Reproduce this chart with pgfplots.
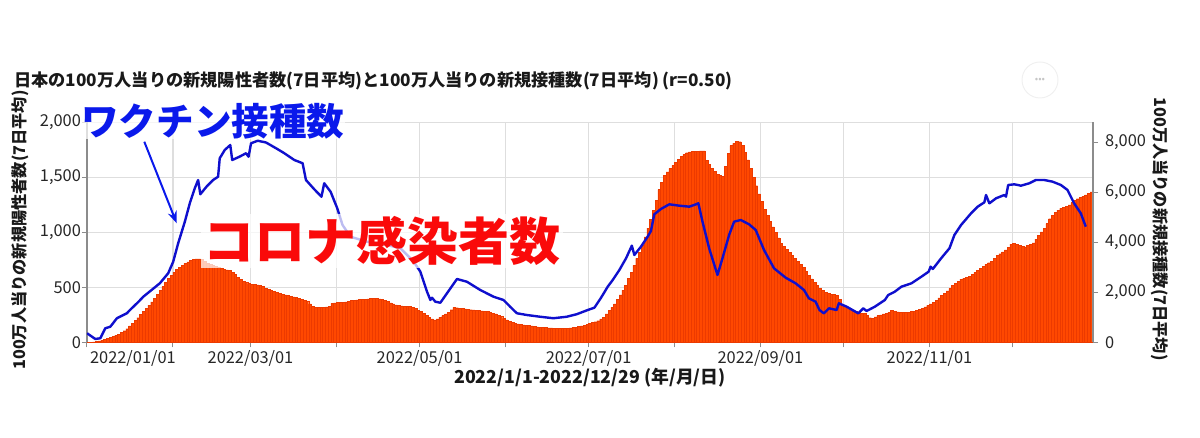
\documentclass[border=0pt]{standalone}
\usepackage{fontspec}
\setmainfont{Noto Sans CJK JP}
\usepackage{pgfplots}
\pgfplotsset{compat=1.18}
\usetikzlibrary{arrows.meta}
\definecolor{barorange}{RGB}{255,72,0}
\definecolor{baredge}{RGB}{236,58,0}
\definecolor{lineblue}{RGB}{15,15,205}
\definecolor{annblue}{RGB}{10,25,235}
\definecolor{annred}{RGB}{250,10,10}
\definecolor{gridgray}{RGB}{222,222,222}
\definecolor{axgray}{RGB}{140,140,140}
\begin{document}
\begin{tikzpicture}
\path[use as bounding box] (-43.5pt,-47.75pt) rectangle (556.5pt,171.25pt);
\begin{axis}[
  at={(0,0)}, anchor=south west, scale only axis,
  width=503pt, height=110pt,
  xmin=-0.5, xmax=362.5, ymin=0, ymax=2000,
  axis x line*=bottom, axis y line*=left,
  axis line style={-, draw=axgray, line width=0.6pt},
  tick align=outside, major tick length=2.5pt,
  tick style={draw=axgray, line width=0.5pt},
  xtick={30.5,58.5,89.5,119.5,150.5,180.5,211.5,242.5,272.5,303.5,333.5},
  xticklabels={,2022/03/01,,2022/05/01,,2022/07/01,,2022/09/01,,2022/11/01,},
  extra x ticks={-0.5}, extra x tick labels={2022/01/01},
  extra x tick style={grid=none, xticklabel style={anchor=north west, xshift=-2pt}},
  ytick={0,500,1000,1500,2000},
  scaled y ticks=false,
  xmajorgrids, ymajorgrids,
  major grid style={draw=gridgray, line width=0.75pt},
  ticklabel style={font=\fontsize{8.2}{10}\selectfont, text=black!85},
  xticklabel style={yshift=2pt},
  yticklabel style={xshift=3pt},
  /pgf/number format/assume math mode=true,
  /pgf/number format/1000 sep={,},
]
\addplot[ybar, bar width=1, fill=barorange, draw=baredge, line width=0.2pt] coordinates {
(0,2)(1,4)(2,5)(3,9)(4,14)(5,21)(6,28)(7,36)(8,44)(9,53)
(10,65)(11,77)(12,90)(13,107)(14,125)(15,150)(16,174)(17,200)(18,225)(19,255)
(20,285)(21,312)(22,340)(23,370)(24,400)(25,436)(26,472)(27,508)(28,545)(29,583)
(30,612)(31,640)(32,662)(33,685)(34,703)(35,720)(36,733)(37,745)(38,759)(39,760)
(40,760)(41,759)(42,740)(43,720)(44,710)(45,700)(46,692)(47,685)(48,675)(49,665)
(50,660)(51,655)(52,640)(53,618)(54,595)(55,575)(56,555)(57,545)(58,535)(59,530)
(60,527)(61,524)(62,520)(63,508)(64,495)(65,485)(66,475)(67,465)(68,456)(69,448)
(70,440)(71,434)(72,428)(73,421)(74,415)(75,408)(76,402)(77,394)(78,385)(79,371)
(80,350)(81,330)(82,322)(83,318)(84,318)(85,318)(86,324)(87,330)(88,356)(89,360)
(90,362)(91,364)(92,365)(93,370)(94,376)(95,381)(96,386)(97,388)(98,391)(99,393)
(100,395)(101,397)(102,399)(103,400)(104,401)(105,396)(106,390)(107,380)(108,371)(109,360)
(110,350)(111,342)(112,335)(113,332)(114,330)(115,328)(116,326)(117,318)(118,310)(119,295)
(120,280)(121,262)(122,245)(123,230)(124,215)(125,205)(126,215)(127,230)(128,245)(129,260)
(130,275)(131,298)(132,320)(133,316)(134,312)(135,308)(136,305)(137,302)(138,298)(139,296)
(140,293)(141,290)(142,288)(143,284)(144,280)(145,275)(146,268)(147,260)(148,248)(149,235)
(150,220)(151,205)(152,195)(153,185)(154,177)(155,170)(156,165)(157,160)(158,157)(159,153)
(160,150)(161,146)(162,142)(163,138)(164,136)(165,135)(166,133)(167,132)(168,131)(169,130)
(170,130)(171,129)(172,130)(173,131)(174,133)(175,136)(176,140)(177,145)(178,150)(179,156)
(180,162)(181,171)(182,180)(183,189)(184,198)(185,214)(186,230)(187,260)(188,290)(189,320)
(190,350)(191,391)(192,432)(193,476)(194,520)(195,580)(196,640)(197,702)(198,765)(199,822)
(200,880)(201,960)(202,1040)(203,1120)(204,1200)(205,1290)(206,1390)(207,1455)(208,1520)(209,1552)
(210,1583)(211,1610)(212,1635)(213,1662)(214,1690)(215,1708)(216,1725)(217,1732)(218,1738)(219,1739)
(220,1740)(221,1741)(222,1741)(223,1659)(224,1620)(225,1583)(226,1556)(227,1530)(228,1518)(229,1508)
(230,1600)(231,1720)(232,1790)(233,1811)(234,1830)(235,1825)(236,1790)(237,1730)(238,1660)(239,1580)
(240,1500)(241,1425)(242,1350)(243,1280)(244,1210)(245,1155)(246,1100)(247,1050)(248,1000)(249,950)
(250,900)(251,872)(252,845)(253,818)(254,790)(255,762)(256,735)(257,708)(258,680)(259,645)
(260,610)(261,578)(262,545)(263,520)(264,495)(265,475)(266,455)(267,447)(268,440)(269,435)
(270,430)(271,390)(272,345)(273,332)(274,320)(275,307)(276,295)(277,285)(278,275)(279,268)
(280,262)(281,244)(282,225)(283,220)(284,232)(285,245)(286,252)(287,260)(288,268)(289,275)
(290,295)(291,286)(292,278)(293,277)(294,276)(295,275)(296,277)(297,280)(298,282)(299,292)
(300,301)(301,311)(302,324)(303,337)(304,350)(305,368)(306,386)(307,405)(308,427)(309,448)
(310,470)(311,493)(312,517)(313,540)(314,558)(315,575)(316,583)(317,592)(318,600)(319,618)
(320,637)(321,655)(322,673)(323,692)(324,710)(325,725)(326,740)(327,765)(328,790)(329,807)
(330,824)(331,841)(332,868)(333,895)(334,900)(335,890)(336,880)(337,875)(338,870)(339,880)
(340,892)(341,905)(342,940)(343,975)(344,1005)(345,1035)(346,1080)(347,1125)(348,1155)(349,1185)
(350,1203)(351,1220)(352,1230)(353,1240)(354,1250)(355,1272)(356,1295)(357,1307)(358,1318)(359,1330)
(360,1343)(361,1356)(362,1370)
};
\end{axis}
\begin{axis}[
  at={(0,0)}, anchor=south west, scale only axis,
  width=503pt, height=110pt,
  xmin=0, xmax=363, ymin=0, ymax=8800,
  axis x line=none, axis y line*=right,
  axis line style={-, draw=axgray, line width=0.6pt},
  tick align=outside, major tick length=2.5pt,
  tick style={draw=axgray, line width=0.5pt},
  ytick={0,2000,4000,6000,8000},
  scaled y ticks=false,
  ticklabel style={font=\fontsize{8.2}{10}\selectfont, text=black!85},
  /pgf/number format/assume math mode=true,
  /pgf/number format/1000 sep={,},
]
\addplot[lineblue, line width=1.2pt, line join=round] coordinates {
(0,370)(3,140)(4.8,170)(6.6,570)(8.4,630)(10.8,970)(14.4,1170)(15.5,1300)(18.6,1630)(20.3,1830)
(23.3,2100)(26.3,2370)(29.3,2770)(31.1,3230)(32.9,3970)(35.3,4830)(37.1,5570)(38.9,6170)(40.1,6500)(40.9,5930)
(43.1,6230)(45.5,6500)(47.3,6630)(47.9,7370)(49.7,7700)(51.7,7900)(52.4,7300)(55,7430)(57.4,7570)(58.3,7430)
(59.2,7970)(61.6,8070)(64.6,8000)(68.2,7770)(71.2,7570)(74.8,7300)(77.8,7170)(79,6500)(82,6130)(84.6,5830)
(85.6,6370)(87.9,6030)(90.3,5370)(92.2,4700)(95.1,4230)(101.1,4030)(107.1,3930)(113.1,3770)(117.9,3230)(120.3,2830)
(122.7,2030)(123.9,1700)(124.5,1790)(125.7,1630)(127.5,1590)(129.9,1970)(133.5,2540)(137.1,2430)(141.9,2100)(146.7,1830)
(150.3,1700)(152.7,1430)(155.1,1170)(158.7,1100)(163.5,1030)(168.3,970)(173.1,1030)(176.7,1130)(180.7,1300)(183.1,1393)
(185.5,1793)(187.9,2233)(189.7,2500)(192.1,2900)(194.5,3367)(196.6,3873)(197.5,3500)(199.9,3833)(202.3,4233)(203.5,4460)
(204.7,5127)(207.1,5340)(210.1,5527)(213.7,5473)(217.3,5433)(219.1,5500)(220.6,5567)(222.1,4833)(224.5,3767)(227.5,2700)
(229.3,3367)(231.7,4300)(233.5,4833)(235.9,4900)(238.9,4727)(241.3,4500)(244.3,3700)(247.9,2967)(252.1,2593)(255.7,2367)
(258.7,2100)(260.5,1767)(262.9,1633)(264.3,1300)(265.9,1167)(267.7,1367)(270.5,1300)(271.3,1567)(274.1,1433)(278.3,1167)
(280.1,1367)(281.3,1260)(284.3,1433)(287.9,1700)(289.1,1900)(291.5,2033)(293.9,2233)(297.5,2367)(301.1,2633)(303.7,2833)
(304.4,3033)(305.2,2940)(308.2,3367)(311.2,3767)(313,4300)(315.4,4700)(319,5167)(321.4,5433)(323.8,5607)(324.4,5900)
(325.6,5567)(328,5767)(331,5900)(331.6,5833)(332.4,6300)(334.6,6327)(337,6273)(340,6367)(342.4,6500)(345.4,6500)
(348.4,6433)(351.4,6300)(353.8,6100)(356.2,5567)(358.6,5167)(360.4,4633)
};
\end{axis}
% titles and labels
\node[anchor=west, inner sep=0pt, font=\bfseries\fontsize{8.6}{10}\selectfont, text=black!90] at (-36.5pt,131pt)
  {日本の100万人当りの新規陽性者数(7日平均)と100万人当りの新規接種数(7日平均) (r=0.50)};
\node[circle, draw=gray!12, line width=0.5pt, minimum size=18pt, inner sep=0pt, text=gray!45, font=\fontsize{5}{5}\selectfont] at (476.5pt,131.25pt) {•••};
\node[rotate=90, font=\bfseries\fontsize{8.1}{10}\selectfont, text=black!90] at (-33.5pt,56.25pt)
  {100万人当りの新規陽性者数(7日平均)};
\node[rotate=-90, font=\bfseries\fontsize{8.1}{10}\selectfont, text=black!90] at (536.5pt,56.75pt)
  {100万人当りの新規接種数(7日平均)};
\node[font=\bfseries\fontsize{8.9}{10}\selectfont, text=black!90] at (251.5pt,-17.75pt)
  {2022/1/1-2022/12/29 (年/月/日)};
% annotations
\node[fill=white, fill opacity=0.72, text opacity=1, inner sep=0pt, text=annblue,
  font=\bfseries\fontsize{18.8}{20}\selectfont] at (63pt,110.75pt) {ワクチン接種数};
\node[fill=white, fill opacity=0.72, text opacity=1, inner sep=1pt, text=annred,
  font=\bfseries\fontsize{25.5}{27}\selectfont] at (147.5pt,50.75pt) {コロナ感染者数};
\draw[annblue, line width=1pt, -{Stealth[length=6pt,width=4.5pt]}] (28.65pt,100.4pt) -- (44.85pt,59.6pt);
\end{tikzpicture}
\end{document}
